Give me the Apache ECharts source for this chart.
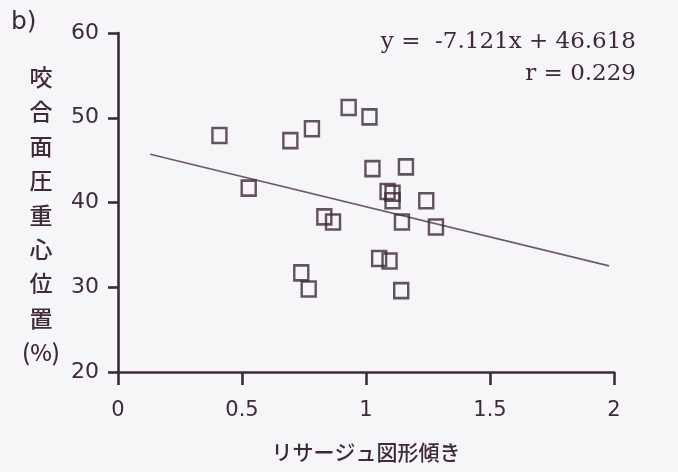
<!DOCTYPE html>
<html>
<head>
<meta charset="utf-8">
<script src="https://cdn.jsdelivr.net/npm/echarts@6/dist/echarts.min.js"></script>
<style>
  html, body { margin: 0; padding: 0; background: #f6f5f7; }
  #chart { width: 678px; height: 472px; }
</style>
</head>
<body>
<div id="chart"></div>
<script>
// Lissajous slope (x) vs. occlusal-pressure centre position (y, %)
const slopeValues = [0.409, 0.527, 0.695, 0.782, 0.930, 1.014, 1.026, 1.161, 1.087, 1.107, 1.107,
                     1.243, 1.145, 1.282, 0.832, 0.867, 1.053, 1.095, 0.739, 0.769, 1.142];
const centreValues = [47.9, 41.7, 47.3, 48.7, 51.2, 50.1, 44.0, 44.2, 41.3, 41.1, 40.2,
                      40.2, 37.7, 37.1, 38.3, 37.7, 33.4, 33.1, 31.7, 29.8, 29.6];

// Regression line y = a*x + b and its drawn x extent
const regSlope = -7.121;
const regIntercept = 46.618;
const regRange = [0.13, 1.98];

const xTicks = [0, 0.5, 1, 1.5, 2];
const yTicks = [20, 30, 40, 50, 60];

const ink = '#3f2b37';
const points = slopeValues.map((x, i) => [x, centreValues[i]]);
const regLine = regRange.map(x => [x, regSlope * x + regIntercept]);

const chart = echarts.init(document.getElementById('chart'), null, { renderer: 'canvas' });
chart.setOption({
  backgroundColor: '#f6f5f7',
  animation: false,
  grid: { left: 118, right: 64, top: 33, bottom: 100, containLabel: false },
  xAxis: {
    type: 'value',
    min: xTicks[0], max: xTicks[xTicks.length - 1], interval: 0.5,
    name: 'リサージュ図形傾き',
    nameLocation: 'middle',
    nameGap: 70,
    nameTextStyle: { color: ink, fontSize: 21, fontWeight: 500, fontFamily: 'Noto Sans CJK JP' },
    axisLine: { lineStyle: { color: ink, width: 2.6 } },
    axisTick: { length: 13, lineStyle: { color: ink, width: 2.6 } },
    axisLabel: { color: ink, fontSize: 21, fontFamily: 'DejaVu Sans', margin: 28,
                 formatter: v => String(v) },
    splitLine: { show: false }
  },
  yAxis: {
    type: 'value',
    min: yTicks[0], max: yTicks[yTicks.length - 1], interval: 10,
    axisLine: { show: true, lineStyle: { color: ink, width: 2.6 } },
    axisTick: { show: true, length: 10, lineStyle: { color: ink, width: 2.6 } },
    axisLabel: { color: ink, fontSize: 22, fontFamily: 'DejaVu Sans', margin: 19 },
    splitLine: { show: false }
  },
  graphic: [
    {
      type: 'text', left: 11, top: 10,
      style: { text: 'b)', fill: ink, font: '25px "DejaVu Sans"' }
    },
    {
      type: 'text', x: 41, y: 60,
      style: {
        text: '咬\n合\n面\n圧\n重\n心\n位\n置\n(%)',
        fill: ink, font: '500 23px "Noto Sans CJK JP"',
        align: 'center', verticalAlign: 'top', lineHeight: 34.4
      }
    },
    {
      type: 'text', x: 636, y: 42,
      style: {
        text: 'y =  -7.121x + 46.618',
        fill: ink, font: '23px "DejaVu Serif"', align: 'right', verticalAlign: 'middle'
      }
    },
    {
      type: 'text', x: 636, y: 74,
      style: {
        text: 'r = 0.229',
        fill: ink, font: '23px "DejaVu Serif"', align: 'right', verticalAlign: 'middle'
      }
    }
  ],
  series: [
    {
      type: 'line',
      data: regLine,
      showSymbol: false,
      silent: true,
      lineStyle: { color: '#6f5b67', width: 1.7 },
      z: 2
    },
    {
      type: 'scatter',
      data: points,
      symbol: 'rect',
      symbolSize: [14, 15],
      itemStyle: { color: 'rgba(0,0,0,0)', borderColor: ink, borderWidth: 2.5 },
      z: 3
    }
  ]
});
</script>
</body>
</html>
